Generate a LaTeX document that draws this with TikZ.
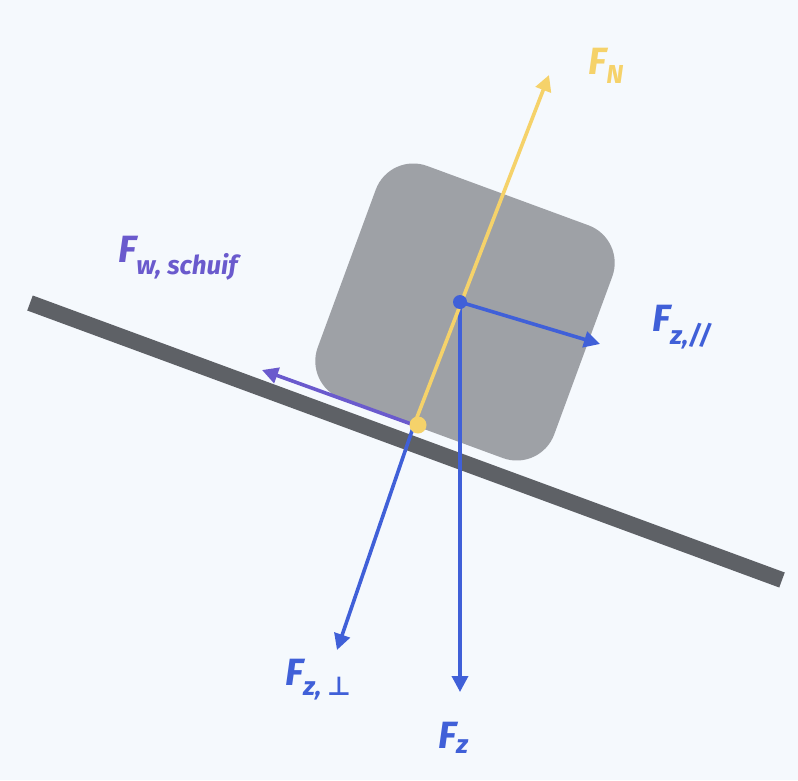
\documentclass[tikz,border=0pt]{standalone}
\usepackage{fontspec}
\setmainfont{Fira Sans}
\newfontfamily\symf{DejaVu Sans}
\usetikzlibrary{arrows.meta}
\definecolor{bg}{HTML}{F5F9FD}
\definecolor{slope}{HTML}{5E6166}
\definecolor{blockc}{HTML}{9EA1A6}
\definecolor{fblue}{HTML}{4060D8}
\definecolor{fyel}{HTML}{F5D26A}
\definecolor{fpur}{HTML}{6A5ACD}
\tikzset{force/.style={line width=3.6pt,-{Triangle[length=16pt,width=16pt]}},
lab/.style={font=\fontsize{38}{38}\selectfont\bfseries\itshape,inner sep=0pt}}
\newcommand{\sbs}[1]{\textsubscript{\fontsize{26}{26}\selectfont #1}}
\begin{document}
\begin{tikzpicture}[x=1pt,y=-1pt]
\fill[bg] (0,0) rectangle (798,780);
\useasboundingbox (0,0) rectangle (798,780);
\coordinate (s1) at (30,303); \coordinate (s2) at (782,580);
\draw[slope,line width=16pt] (s1) -- (s2);
\node[fill=blockc,minimum width=252pt,minimum height=248pt,rounded corners=40pt,rotate=-20.2] (blk) at (465,312) {};
\coordinate (c) at (460,302);
\coordinate (p) at (414,425);
\coordinate (fz) at (460,692);
\coordinate (fzp) at (600,344);
\coordinate (fzn) at (337,650);
\coordinate (fn) at (549,75);
\coordinate (fw) at (262,370);
\draw[force,fpur] (p) -- (fw);
\draw[force,fblue] (c) -- (fz);
\draw[force,fblue] (c) -- (fzp);
\draw[force,fblue] (p) -- (fzn);
\draw[force,fyel] (p) -- (fn);
\fill[fblue] (c) circle (7pt);
\fill[fyel] (418,425) circle (8.5pt);
\node[lab,fyel,anchor=west] (lN) at (588,66) {F\sbs{N}};
\node[lab,fblue,anchor=west] (lp) at (652,327) {F\sbs{z,//}};
\node[lab,fblue,anchor=west] (lperp) at (285,680) {F\sbs{z, {\symf\upshape ⊥}}};
\node[lab,fblue,anchor=west] (lz) at (438,738) {F\sbs{z}};
\node[lab,fpur,anchor=west] (lw) at (118,258) {F\sbs{w, schuif}};
\end{tikzpicture}
\end{document}
